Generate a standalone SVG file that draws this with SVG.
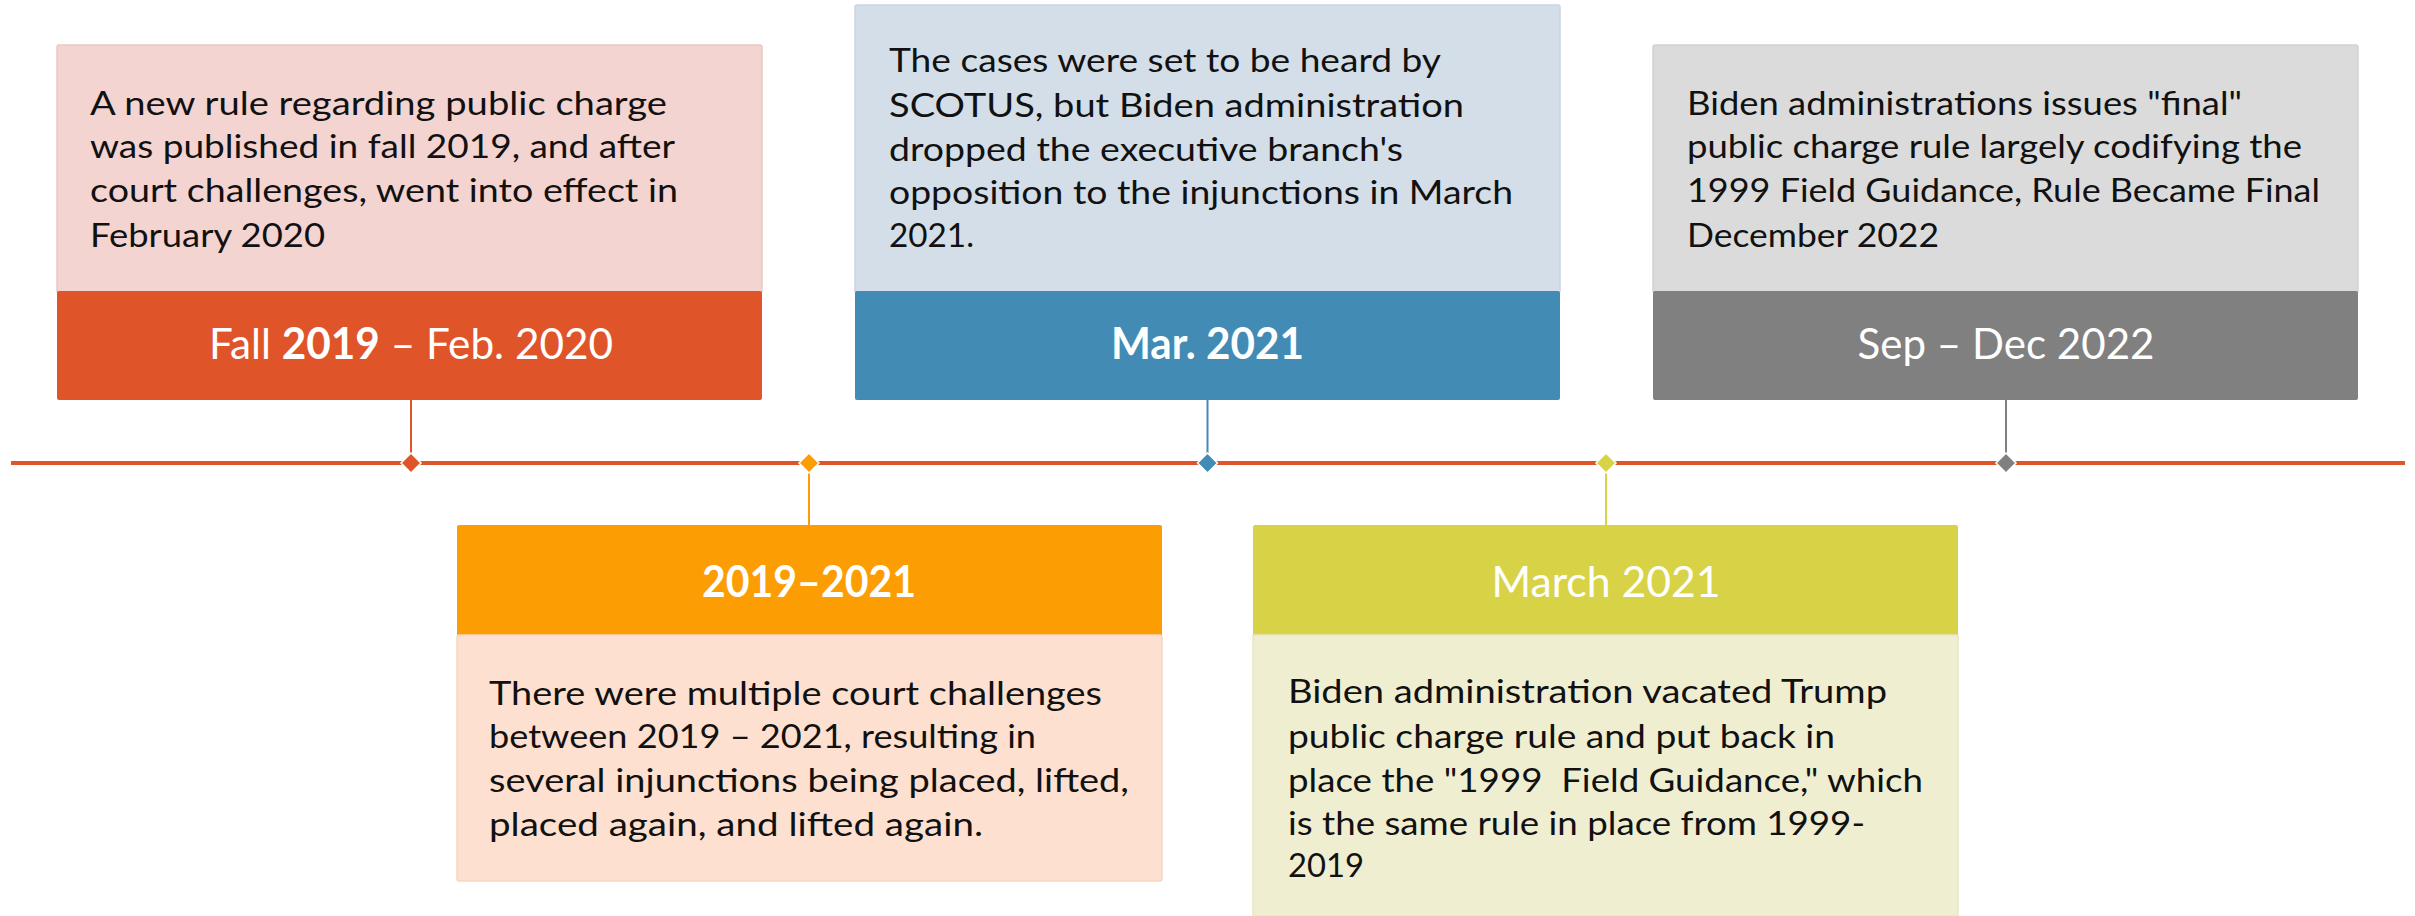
<svg xmlns="http://www.w3.org/2000/svg" width="2415" height="916" viewBox="0 0 2415 916">
  <style>
    .body { font-family: Lato, "Open Sans", "Liberation Sans", sans-serif; font-size: 33px; fill: #111111; }
    .head { font-family: Lato, "Open Sans", "Liberation Sans", sans-serif; font-size: 43px; fill: #ffffff; text-anchor: middle; }
    .bold { font-weight: bold; }
    .stem { stroke-width: 2; fill: none; }
    .dia { stroke: #ffffff; stroke-width: 1.5; }
    .c1d { fill: #E0542A; } .c1l { fill: #F3D4D1; stroke: #EDC7C3; stroke-width: 1.5; }
    .c2d { fill: #FC9D04; } .c2l { fill: #FDE0CF; stroke: #F8D6C3; stroke-width: 1.5; }
    .c3d { fill: #428BB5; } .c3l { fill: #D3DEE8; stroke: #C9D5E1; stroke-width: 1.5; }
    .c4d { fill: #D8D346; } .c4l { fill: #F0EED1; stroke: #E8E6C5; stroke-width: 1.5; }
    .c5d { fill: #808080; } .c5l { fill: #DBDBDB; stroke: #D2D2D2; stroke-width: 1.5; }
  </style>
  <rect width="2415" height="916" fill="#ffffff"/>

  <!-- timeline, stems and milestone diamonds -->
  <g id="connectors">
    <line x1="11" y1="463" x2="2405" y2="463" stroke="#E0542A" stroke-width="4"/>
    <line class="stem" x1="411" y1="400" x2="411" y2="455" stroke="#E0542A"/>
    <line class="stem" x1="809" y1="471" x2="809" y2="525" stroke="#FC9D04"/>
    <line class="stem" x1="1207.5" y1="400" x2="1207.5" y2="455" stroke="#428BB5"/>
    <line class="stem" x1="1606" y1="471" x2="1606" y2="525" stroke="#D8D346"/>
    <line class="stem" x1="2006" y1="400" x2="2006" y2="455" stroke="#808080"/>
    <polygon class="dia c1d" points="411,453 421,463 411,473 401,463"/>
    <polygon class="dia c2d" points="809,453 819,463 809,473 799,463"/>
    <polygon class="dia c3d" points="1207.5,453 1217.5,463 1207.5,473 1197.5,463"/>
    <polygon class="dia c4d" points="1606,453 1616,463 1606,473 1596,463"/>
    <polygon class="dia c5d" points="2006,453 2016,463 2006,473 1996,463"/>
  </g>

  <g id="event-fall-2019">
    <rect class="c1l" x="57" y="45" width="705" height="248" rx="2"/>
    <rect class="c1d" x="57" y="291" width="705" height="109" rx="2"/>
    <text class="body" x="90" y="115" textLength="577" lengthAdjust="spacingAndGlyphs">A new rule regarding public charge</text>
    <text class="body" x="90" y="158" textLength="585" lengthAdjust="spacingAndGlyphs">was published in fall 2019, and after</text>
    <text class="body" x="90" y="202" textLength="588" lengthAdjust="spacingAndGlyphs">court challenges, went into effect in</text>
    <text class="body" x="90" y="247" textLength="235" lengthAdjust="spacingAndGlyphs">February 2020</text>
    <text class="head" x="411" y="359" textLength="404" lengthAdjust="spacingAndGlyphs">Fall <tspan class="bold">2019</tspan> – Feb. 2020</text>
  </g>

  <g id="event-2019-2021">
    <rect class="c2d" x="457" y="525" width="705" height="112" rx="2"/>
    <rect class="c2l" x="457" y="635" width="705" height="246" rx="2"/>
    <text class="head bold" x="809" y="597" textLength="214" lengthAdjust="spacingAndGlyphs">2019–2021</text>
    <text class="body" x="489" y="705" textLength="613" lengthAdjust="spacingAndGlyphs">There were multiple court challenges</text>
    <text class="body" x="489" y="748" textLength="547" lengthAdjust="spacingAndGlyphs">between 2019 – 2021, resulting in</text>
    <text class="body" x="489" y="792" textLength="640" lengthAdjust="spacingAndGlyphs">several injunctions being placed, lifted,</text>
    <text class="body" x="489" y="836" textLength="494" lengthAdjust="spacingAndGlyphs">placed again, and lifted again.</text>
  </g>

  <g id="event-mar-2021-scotus">
    <rect class="c3l" x="855" y="5" width="705" height="288" rx="2"/>
    <rect class="c3d" x="855" y="291" width="705" height="109" rx="2"/>
    <text class="body" x="889" y="72" textLength="552" lengthAdjust="spacingAndGlyphs">The cases were set to be heard by</text>
    <text class="body" x="889" y="117" textLength="575" lengthAdjust="spacingAndGlyphs">SCOTUS, but Biden administration</text>
    <text class="body" x="889" y="161" textLength="514" lengthAdjust="spacingAndGlyphs">dropped the executive branch's</text>
    <text class="body" x="889" y="204" textLength="624" lengthAdjust="spacingAndGlyphs">opposition to the injunctions in March</text>
    <text class="body" x="889" y="247" textLength="85" lengthAdjust="spacingAndGlyphs">2021.</text>
    <text class="head bold" x="1207.5" y="359" textLength="193" lengthAdjust="spacingAndGlyphs">Mar. 2021</text>
  </g>

  <g id="event-march-2021-vacated">
    <rect class="c4d" x="1253" y="525" width="705" height="112" rx="2"/>
    <rect class="c4l" x="1253" y="635" width="705" height="281"/>
    <text class="head" x="1606" y="597" textLength="229" lengthAdjust="spacingAndGlyphs">March 2021</text>
    <text class="body" x="1288" y="703" textLength="599" lengthAdjust="spacingAndGlyphs">Biden administration vacated Trump</text>
    <text class="body" x="1288" y="748" textLength="547" lengthAdjust="spacingAndGlyphs">public charge rule and put back in</text>
    <text class="body" x="1288" y="792" textLength="635" lengthAdjust="spacingAndGlyphs" xml:space="preserve">place the "1999  Field Guidance," which</text>
    <text class="body" x="1288" y="835" textLength="577" lengthAdjust="spacingAndGlyphs">is the same rule in place from 1999-</text>
    <text class="body" x="1288" y="877" textLength="76" lengthAdjust="spacingAndGlyphs">2019</text>
  </g>

  <g id="event-sep-dec-2022">
    <rect class="c5l" x="1653" y="45" width="705" height="248" rx="2"/>
    <rect class="c5d" x="1653" y="291" width="705" height="109" rx="2"/>
    <text class="body" x="1687" y="115" textLength="555" lengthAdjust="spacingAndGlyphs">Biden administrations issues "final"</text>
    <text class="body" x="1687" y="158" textLength="615" lengthAdjust="spacingAndGlyphs">public charge rule largely codifying the</text>
    <text class="body" x="1687" y="202" textLength="633" lengthAdjust="spacingAndGlyphs">1999 Field Guidance, Rule Became Final</text>
    <text class="body" x="1687" y="247" textLength="252" lengthAdjust="spacingAndGlyphs">December 2022</text>
    <text class="head" x="2006" y="359" textLength="297" lengthAdjust="spacingAndGlyphs">Sep – Dec 2022</text>
  </g>
</svg>
